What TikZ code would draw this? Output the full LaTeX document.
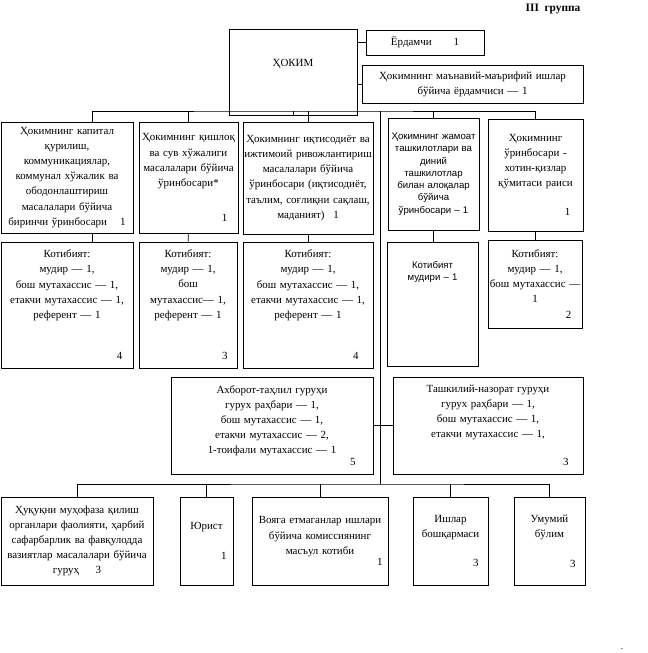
\documentclass[tikz,border=0pt]{standalone}
\usepackage{fontspec}
\setmainfont{Liberation Serif}
\newfontfamily\sansfont{Liberation Sans}
\newcommand\rnum[2][7.5pt]{\mbox{}\hskip 0pt plus 1fill #2\kern#1}

\tikzset{
  box/.style 2 args={draw, line width=0.6pt, inner sep=0.5pt, align=center,
    minimum width=#1*0.75pt, minimum height=#2*0.75pt, text width=#1*0.75pt-1pt,
    font=\fontsize{8.2}{11.3}\selectfont},
  sbox/.style 2 args={box={#1}{#2}, font=\sansfont\fontsize{7.2}{9.2}\selectfont},
  link/.style={line width=0.6pt}
}

\begin{document}
\begin{tikzpicture}[x=0.75pt,y=-0.75pt]
    \useasboundingbox (0,0) rectangle (647,653);

    % Sarlavha
    \node[font=\bfseries\fontsize{8.5}{11}\selectfont] (guruh) at (553,9) {III\ \ группа};

    % Hokim va yordamchilar
    \node[box={128}{86}] (hokim) at (293,72) {ҲОКИМ\\[2pt]\mbox{}};
    \node[box={118}{25}] (yordamchi) at (425,42.5) {Ёрдамчи\hspace{2em}1};
    \node[box={221}{38}] (manaviy) at (472.5,84) {Ҳокимнинг маънавий-маърифий ишлар\\ бўйича ёрдамчиси — 1};

    % O'rinbosarlar
    \node[box={132}{111}] (kapital) at (67,177.5) {Ҳокимнинг капитал\\ қурилиш,\\ коммуникациялар,\\ коммунал хўжалик ва\\ ободонлаштириш\\ масалалари бўйича\\ биринчи ўринбосари\hspace{1.2em}1};
    \node[box={99}{111}] (qishloq) at (188.5,177.5) {Ҳокимнинг қишлоқ\\ ва сув хўжалиги\\ масалалари бўйича\\ ўринбосари*\\[15pt]\rnum{1}};
    \node[box={130}{112}] (iqtisod) at (308,178) {Ҳокимнинг иқтисодиёт ва\\ ижтимоий ривожлантириш\\ масалалари бўйича\\ ўринбосари (иқтисодиёт,\\ таълим, соғлиқни сақлаш,\\ маданият)\hspace{0.8em}1};
    \node[sbox={91}{112}] (jamoat) at (433.5,174) {Ҳокимнинг жамоат\\ ташкилотлари ва\\ диний\\ ташкилотлар\\ билан алоқалар\\ бўйича\\ ўринбосари – 1};
    \node[box={95}{112}] (xotin) at (535.5,175) {Ҳокимнинг\\ ўринбосари -\\ хотин-қизлар\\ қўмитаси раиси\\[10pt]\rnum[9pt]{1}};

    % Kotibiyatlar
    \node[box={132}{126}] (kotibA) at (67,305) {Котибият:\\ мудир — 1,\\ бош мутахассис — 1,\\ етакчи мутахассис — 1,\\ референт — 1\\[20pt]\rnum{4}};
    \node[box={98}{126}] (kotibB) at (188,305) {Котибият:\\ мудир — 1,\\ бош\\ мутахассис— 1,\\ референт — 1\\[20pt]\rnum[6.6pt]{3}};
    \node[box={130}{126}] (kotibC) at (308,305) {Котибият:\\ мудир — 1,\\ бош мутахассис — 1,\\ етакчи мутахассис — 1,\\ референт — 1\\[20pt]\rnum[10.4pt]{4}};
    \node[sbox={91}{124}] (kotibD) at (432.5,304) {Котибият\\ мудири – 1\\[40pt]\mbox{}};
    \node[box={94}{88}] (kotibE) at (535,284) {Котибият:\\ мудир — 1,\\ бош мутахассис —\\ 1\\ \rnum{2}};

    % Guruhlar
    \node[box={202}{97}] (axborot) at (272,425.5) {Ахборот-таҳлил гуруҳи\\ гурух раҳбари — 1,\\ бош мутахассис — 1,\\ етакчи мутахассис — 2,\\ 1-тоифали мутахассис — 1\\[-2pt]\rnum[12.5pt]{5}};
    \node[box={190}{97}] (nazorat) at (488,425.5) {Ташкилий-назорат гуруҳи\\ гурух раҳбари — 1,\\ бош мутахассис — 1,\\ етакчи мутахассис — 1,\\[10pt]\rnum[10.4pt]{3}};

    % Pastki qator
    \node[box={152}{88}] (huquq) at (77,541) {Ҳуқуқни муҳофаза қилиш\\ органлари фаолияти, ҳарбий\\ сафарбарлик ва фавқулодда\\ вазиятлар масалалари бўйича\\ гуруҳ\hspace{1.5em}3};
    \node[box={53}{88}] (yurist) at (206.5,541) {Юрист\\[11pt]\rnum[4.4pt]{1}};
    \node[box={136}{88}] (voyaga) at (320,541) {Вояга етмаганлар ишлари\\ бўйича комиссиянинг\\ масъул котиби\\[-3pt]\rnum[3.6pt]{1}};
    \node[box={75}{88}] (ishlar) at (450.5,541) {Ишлар\\ бошқармаси\\[11pt]\rnum[6.6pt]{3}};
    \node[box={71}{88}] (umumiy) at (549.5,541) {Умумий\\ бўлим\\[11pt]\rnum[6.6pt]{3}};

    \node[inner sep=0pt, font=\fontsize{7}{8}\selectfont] (nuqta) at (622,649) {.};

    % Ulanishlar
    \coordinate (bus) at (293,111);
    \coordinate (spinetop) at (380,111);
    \coordinate (spinebot) at (380,484);
    \draw[link] (hokim.south) -- (bus);
    \draw[link] (yordamchi.west) -- (yordamchi.west -| hokim.east);
    \draw[link] (manaviy.west) -- (manaviy.west -| hokim.east);
    \draw[link] ([xshift=18.75pt]kapital.north) |- (bus) -| (xotin.north);
    \draw[link] (qishloq.north) -- (qishloq.north |- bus);
    \draw[link] (iqtisod.north) -- (iqtisod.north |- bus);
    \draw[link] (jamoat.north) -- (jamoat.north |- bus);
    \draw[link] ([xshift=18.75pt]kapital.south) -- ([xshift=18.75pt]kotibA.north);
    \draw[link] (qishloq) -- (kotibB);
    \draw[link] (iqtisod) -- (kotibC);
    \draw[link] (jamoat.south) -- (jamoat.south |- kotibD.north);
    \draw[link] (xotin.south) -- (xotin.south |- kotibE.north);
    \draw[link] (spinetop) -- (spinebot);
    \draw[link] (axborot) -- (nazorat);
    \draw[link] (huquq.north) |- (spinebot) -| (umumiy.north);
    \draw[link] (yurist.north) -- (yurist.north |- spinebot);
    \draw[link] (voyaga.north) -- (voyaga.north |- spinebot);
    \draw[link] (ishlar.north) -- (ishlar.north |- spinebot);
\end{tikzpicture}
\end{document}
